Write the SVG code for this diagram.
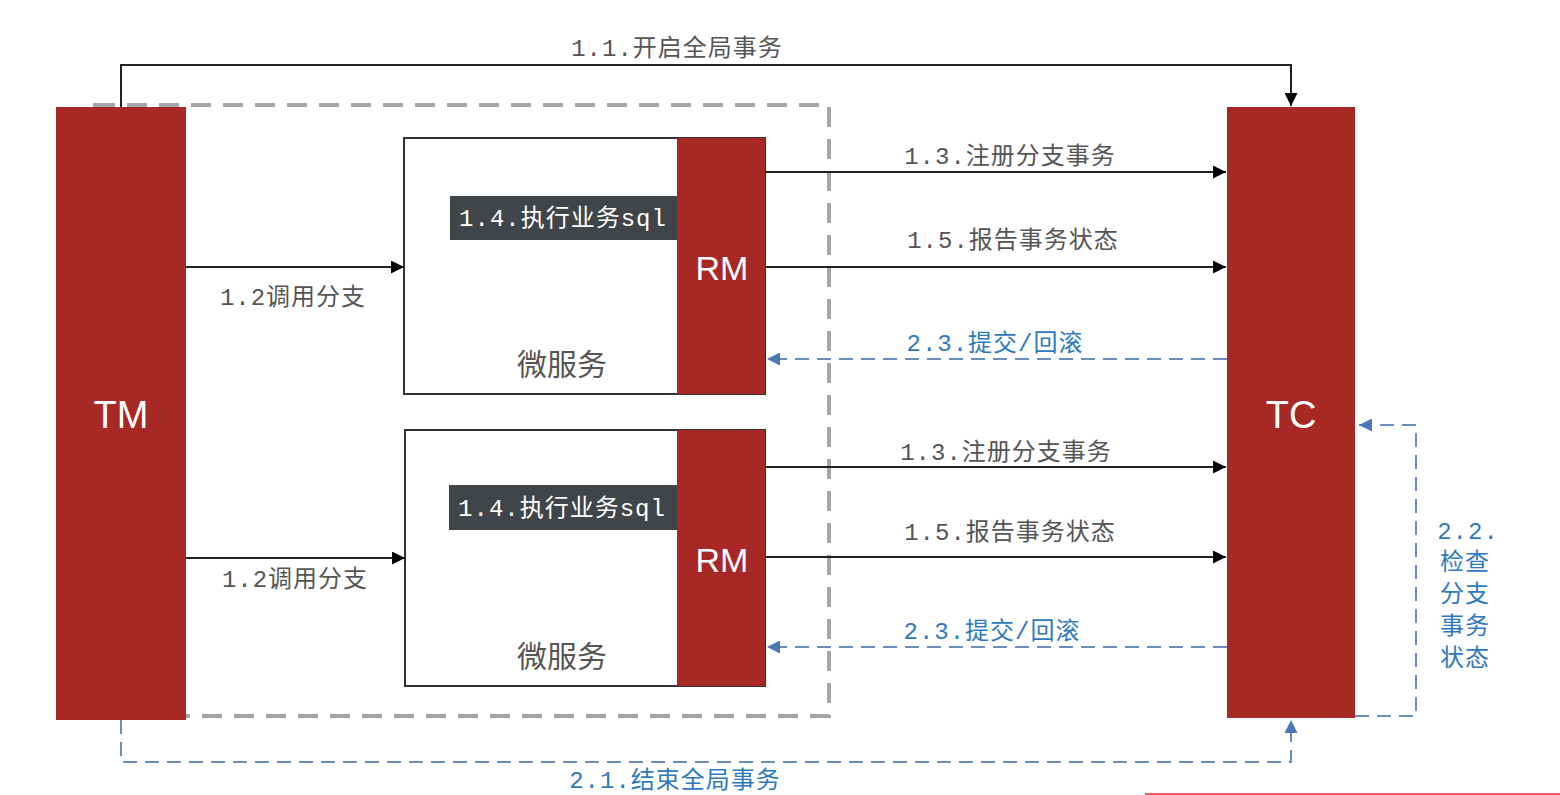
<svg xmlns="http://www.w3.org/2000/svg" width="1560" height="795" viewBox="0 0 1560 795">
<style>
.red{fill:#A82825;}
.big{font-family:"Liberation Sans","Noto Sans",sans-serif;fill:#fff;text-anchor:middle;}
.lbl{font-family:"Liberation Mono","Noto Sans CJK SC",monospace;font-size:24px;letter-spacing:1px;fill:#555;text-anchor:middle;}
.blue{fill:#2E79BD;}
.ms{font-family:"Noto Sans CJK SC",sans-serif;font-size:30px;fill:#555;text-anchor:middle;}
.sq{font-family:"Liberation Mono","Noto Sans CJK SC",monospace;font-size:24px;letter-spacing:1px;fill:#fff;text-anchor:middle;}
.solid{fill:none;stroke:#222;stroke-width:2;}
.dash{fill:none;stroke:#6A8DBE;stroke-width:2;stroke-dasharray:14 8;}
</style>
<defs>
<marker id="ab" viewBox="0 0 10 10" refX="10" refY="5" markerWidth="13" markerHeight="13" markerUnits="userSpaceOnUse" orient="auto"><path d="M0,0 L10,5 L0,10 z" fill="#000"/></marker>
<marker id="au" viewBox="0 0 10 10" refX="10" refY="5" markerWidth="13" markerHeight="13" markerUnits="userSpaceOnUse" orient="auto"><path d="M0,0 L10,5 L0,10 z" fill="#4A78B5"/></marker>
</defs>
<rect width="1560" height="795" fill="#fff"/>
<g id="boundary">
<rect x="95" y="105" width="734" height="611" fill="none" stroke="#A6A6A6" stroke-width="4" stroke-dasharray="20 12"/>
</g>
<g id="TM"><rect class="red" x="56" y="107" width="130" height="613"/><text class="big" x="121" y="428" font-size="38">TM</text></g>
<g id="TC"><rect class="red" x="1227" y="107" width="128" height="611"/><text class="big" x="1291" y="428" font-size="38">TC</text></g>
<g id="ms1">
<rect x="404" y="138" width="361" height="256" fill="#fff" stroke="#333" stroke-width="2"/>
<text class="ms" x="562" y="375">微服务</text>
<rect x="450" y="196" width="228" height="44" fill="#3F4548"/>
<text class="sq" x="563" y="226">1.4.执行业务sql</text>
</g>
<g id="rm1"><rect class="red" x="677" y="138" width="88" height="256"/><text class="big" x="722" y="280" font-size="34">RM</text></g>
<g id="ms2">
<rect x="405" y="430" width="360" height="256" fill="#fff" stroke="#333" stroke-width="2"/>
<text class="ms" x="562" y="667">微服务</text>
<rect x="449" y="485" width="228" height="45" fill="#3F4548"/>
<text class="sq" x="562" y="516">1.4.执行业务sql</text>
</g>
<g id="rm2"><rect class="red" x="677" y="430" width="88" height="256"/><text class="big" x="722" y="572" font-size="34">RM</text></g>
<g id="connectors">
<path class="solid" d="M121,107 V65 H1291 V106" marker-end="url(#ab)"/>
<path class="solid" d="M186,267 H404" marker-end="url(#ab)"/>
<path class="solid" d="M186,558 H405" marker-end="url(#ab)"/>
<path class="solid" d="M765,172 H1226" marker-end="url(#ab)"/>
<path class="solid" d="M765,267 H1226" marker-end="url(#ab)"/>
<path class="solid" d="M765,467 H1226" marker-end="url(#ab)"/>
<path class="solid" d="M765,557 H1226" marker-end="url(#ab)"/>
<path class="dash" d="M1227,359 H767" marker-end="url(#au)"/>
<path class="dash" d="M1227,647 H767" marker-end="url(#au)"/>
<path class="dash" d="M1355,716 H1416 V425 H1359" marker-end="url(#au)"/>
<path class="dash" d="M121,720 V762 H1291 V720" marker-end="url(#au)"/>
<text class="lbl" x="677" y="56">1.1.开启全局事务</text>
<text class="lbl" x="293" y="305">1.2调用分支</text>
<text class="lbl" x="295" y="587">1.2调用分支</text>
<text class="lbl" x="1010" y="164">1.3.注册分支事务</text>
<text class="lbl" x="1013" y="248">1.5.报告事务状态</text>
<text class="lbl blue" x="995" y="351">2.3.提交/回滚</text>
<text class="lbl" x="1006" y="460">1.3.注册分支事务</text>
<text class="lbl" x="1010" y="540">1.5.报告事务状态</text>
<text class="lbl blue" x="992" y="639">2.3.提交/回滚</text>
<text class="lbl blue" x="675" y="788">2.1.结束全局事务</text>
<text class="lbl blue" x="1468" y="539">2.2.</text>
<text class="lbl blue" x="1465" y="570">检查</text>
<text class="lbl blue" x="1465" y="602">分支</text>
<text class="lbl blue" x="1465" y="634">事务</text>
<text class="lbl blue" x="1465" y="666">状态</text>
</g>
<line x1="1145" y1="794" x2="1560" y2="794" stroke="#E8605C" stroke-width="2"/>
</svg>
